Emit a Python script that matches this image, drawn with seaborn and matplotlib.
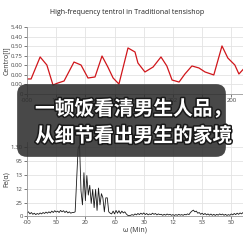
import matplotlib
matplotlib.use("Agg")
import matplotlib.pyplot as plt
import matplotlib.patheffects as pe
from matplotlib.patches import FancyBboxPatch
import seaborn as sns
import pandas as pd

# ---- data ----
title_text = "High-frequency tentrol in Traditional tensishop"
top_ylabel = "Centro[l]"
bottom_ylabel = "Fe(α)"
bottom_xlabel = "ω (Min)"
overlay_lines = ["一顿饭看清男生人品，", "从细节看出男生的家境"]

top_ytick_labels = ["0", "0.00", "0.00", "0.00", "0.75", "0.50", "0.40", "5.40"]
top_xtick_labels = ["-000", "100", "200", "300", "400", "202", "300", "200"]
bot_ytick_labels = ["0", "25", "12", "13", "95", "1.30"]
bot_xtick_labels = ["-00", "50", "20", "60", "30", "12", "53", "50"]

top_x = [0, 14, 45, 68, 89, 106, 127, 161, 185, 209, 233, 257, 277, 295, 315,
         346, 370, 380, 404, 432, 459, 479, 497, 521, 541, 565, 589, 610, 640,
         668, 688, 712, 726, 745]
top_y = [1.57, 1.57, 3.87, 3.03, 0.94, 1.15, 1.36, 3.34, 3.03, 1.67, 1.78, 3.97,
         2.82, 1.67, 1.04, 4.81, 4.39, 3.24, 2.30, 2.82, 3.87, 2.93, 1.46, 1.25,
         2.09, 2.93, 2.72, 2.30, 1.99, 5.02, 3.76, 3.03, 2.09, 2.72]

bot_y = [0.20, 0.30, 0.15, 0.25, 0.12, 0.20, 0.10, 0.18, 0.12, 0.22, 0.15, 0.25,
         0.18, 0.28, 0.20, 0.30, 0.22, 0.35, 0.25, 0.38, 0.28, 0.35, 0.25, 0.40,
         0.30, 0.38, 0.25, 0.35, 0.22, 0.30, 0.20, 0.25,
         0.25, 0.30, 2.50, 4.80, 5.10, 1.80, 0.80, 3.10, 1.10, 2.90, 1.50, 2.20,
         0.90, 1.90, 0.60, 1.90, 0.40, 2.00, 0.80, 1.60, 1.30, 0.30, 1.30, 1.30,
         0.30, 0.20, 0.15,
         0.35, 0.15, 0.40, 0.20, 0.38, 0.18, 0.35, 0.22, 0.30, 0.15, 0.05, 0.02,
         0.05, 0.10, 0.05, 0.15, 0.08, 0.18, 0.10, 0.20, 0.12, 0.22, 0.10, 0.18,
         0.08, 0.15, 0.10, 0.20, 0.12, 0.18, 0.08, 0.15, 0.10, 0.12, 0.05, 0.12,
         0.06, 0.14, 0.08, 0.12, 0.05, 0.10, 0.04, 0.10, 0.05, 0.12, 0.06, 0.10,
         0.05, 0.12, 0.08, 0.15, 0.10, 0.25, 0.35, 0.42, 0.30, 0.35, 0.20, 0.25,
         0.12, 0.20, 0.10, 0.18, 0.08, 0.15, 0.06, 0.14, 0.05, 0.12, 0.04, 0.12,
         0.06, 0.15, 0.08, 0.14, 0.05, 0.12, 0.04, 0.10, 0.05, 0.15, 0.08, 0.18,
         0.10, 0.20, 0.12, 0.22, 0.15, 0.25]
bot_x = [5 * i for i in range(len(bot_y))]

top_df = pd.DataFrame({"x": top_x, "y": top_y})
bot_df = pd.DataFrame({"x": bot_x, "y": bot_y})

# ---- style ----
sns.set_theme(style="whitegrid")
plt.rcParams["font.family"] = ["Open Sans", "DejaVu Sans"]
plt.rcParams["grid.color"] = "#e3e3e3"
plt.rcParams["grid.linewidth"] = 0.6

W = 243.0
fig = plt.figure(figsize=(2.43, 2.43), dpi=100)

def fx(px):
    return px / W

def fy(px):
    return 1 - px / W

tick_fs = 4.3
lab_fs = 5.0

ax1 = fig.add_axes([fx(27), fy(94), 1 - fx(27), fy(27) - fy(94)])
sns.lineplot(data=top_df, x="x", y="y", ax=ax1, color="#d0161b", linewidth=0.9)
ax1.set_xlim(0, 740)
ax1.set_ylim(0, 7)
ax1.set_yticks(range(len(top_ytick_labels)))
ax1.set_yticklabels(top_ytick_labels)
ax1.set_xticks([100 * i for i in range(len(top_xtick_labels))])
ax1.set_xticklabels(top_xtick_labels)
ax1.set_xlabel("")
ax1.set_ylabel(top_ylabel, fontsize=lab_fs, labelpad=1, color="#333")

ax2 = fig.add_axes([fx(27), fy(216), 1 - fx(27), fy(142) - fy(216)])
sns.lineplot(data=bot_df, x="x", y="y", ax=ax2, color="#1a1a1a", linewidth=0.6)
ax2.set_xlim(0, 740)
ax2.set_ylim(0, 5.3)
ax2.set_yticks([0, 0.93, 1.93, 2.93, 3.93, 4.93])
ax2.set_yticklabels(bot_ytick_labels)
ax2.set_xticks([100 * i for i in range(len(bot_xtick_labels))])
ax2.set_xticklabels(bot_xtick_labels)
ax2.set_xlabel(bottom_xlabel, fontsize=lab_fs, labelpad=1, color="#333")
ax2.set_ylabel(bottom_ylabel, fontsize=lab_fs, labelpad=1, color="#333")

for ax in (ax1, ax2):
    ax.tick_params(axis="both", labelsize=tick_fs, length=2, width=0.5,
                   pad=1, colors="#444", left=True, bottom=True)
    for s in ("top", "right"):
        ax.spines[s].set_visible(False)
    for s in ("left", "bottom"):
        ax.spines[s].set_color("#999")
        ax.spines[s].set_linewidth(0.6)

fig.text(fx(127), fy(12), title_text, ha="center", va="center",
         fontsize=5.0, color="#222")

# overlay box
box = FancyBboxPatch((fx(22), fy(152)), fx(199), fy(89) - fy(152),
                     boxstyle="round,pad=0.02,rounding_size=0.04",
                     transform=fig.transFigure, facecolor="#2e2e2e",
                     edgecolor="none", alpha=0.88, zorder=10)
fig.add_artist(box)

for i, line in enumerate(overlay_lines):
    t = fig.text(fx(35), fy(109 + 27 * i), line, ha="left", va="center",
                 fontsize=14.2, fontweight="bold", color="white",
                 family=["Noto Sans CJK SC", "DejaVu Sans"], zorder=11)
    t.set_path_effects([pe.withStroke(linewidth=2.2, foreground="#1a1a1a")])

fig.savefig("out.png", dpi=100)
